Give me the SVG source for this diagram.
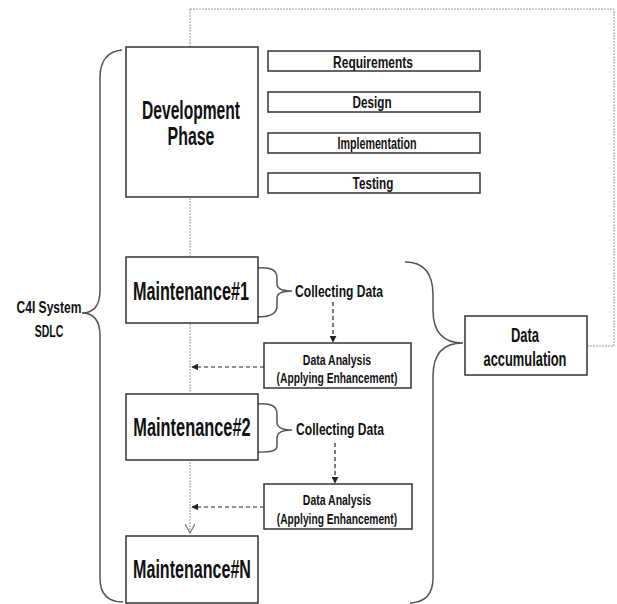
<svg xmlns="http://www.w3.org/2000/svg" width="617" height="604" viewBox="0 0 617 604">
<defs>
<marker id="filled" viewBox="0 0 10 10" refX="9" refY="5" markerWidth="7" markerHeight="7" markerUnits="userSpaceOnUse" orient="auto">
<path d="M0,0 L10,5 L0,10 Z" fill="#222"/>
</marker>
<marker id="open" viewBox="0 0 10 10" refX="9" refY="5" markerWidth="10" markerHeight="10" markerUnits="userSpaceOnUse" orient="auto">
<path d="M0,0 L9,5 L0,10" fill="none" stroke="#777" stroke-width="1.2"/>
</marker>
<style>
.box{fill:#fff;stroke:#333;stroke-width:1.5}
.brace{fill:none;stroke:#555;stroke-width:1.5}
.dot{fill:none;stroke:#999;stroke-width:1;stroke-dasharray:2 1}
.dash{fill:none;stroke:#222;stroke-width:1.2;stroke-dasharray:4 3}
text{font-family:"Liberation Sans",Arial,sans-serif;fill:#111;text-anchor:middle;font-weight:bold}
.big{font-size:25px}
.mid{font-size:20px}
.sm{font-size:17px}
.xs{font-size:14px}
</style>
</defs>
<rect width="617" height="604" fill="#fff"/>
<g id="connectors">
<path class="dot" d="M190,9 H614 V346 H587"/>
<path class="dot" d="M190,9 V533" marker-end="url(#open)"/>
<path class="dash" d="M333,302 V342" marker-end="url(#filled)"/>
<path class="dash" d="M264,367 H192" marker-end="url(#filled)"/>
<path class="dash" d="M335,443 V483" marker-end="url(#filled)"/>
<path class="dash" d="M264,507 H192" marker-end="url(#filled)"/>
<path class="brace" d="M258,268 Q277,266 277,278 V284 Q277,291 292,291 Q277,291 277,298 V306 Q277,317 258,317"/>
<path class="brace" d="M258,404 Q277,402 277,414 V422 Q277,430 292,430 Q277,430 277,438 V446 Q277,453 258,452"/>
<path class="brace" d="M122,50 Q100,52 100,78 V290 Q100,313 82,313 Q100,313 100,336 V578 Q100,602 123,602"/>
<path class="brace" d="M405,262 Q433,262 433,295 V310 Q433,343 463,343 Q433,343 433,376 V578 Q433,602 410,603"/>
</g>
<g id="dev">
<rect class="box" x="126" y="47" width="132" height="150"/>
<text class="big" transform="translate(191,119) scale(0.625,1)">Development</text>
<text class="big" transform="translate(191,145) scale(0.635,1)">Phase</text>
</g>
<g id="req">
<rect class="box" x="268" y="51" width="212" height="20"/>
<text class="sm" transform="translate(373,68) scale(0.705,1)">Requirements</text>
</g>
<g id="design">
<rect class="box" x="268" y="92" width="212" height="20"/>
<text class="sm" transform="translate(372,108) scale(0.69,1)">Design</text>
</g>
<g id="impl">
<rect class="box" x="268" y="133" width="212" height="20"/>
<text class="sm" transform="translate(377,149) scale(0.63,1)">Implementation</text>
</g>
<g id="test">
<rect class="box" x="268" y="173" width="212" height="20"/>
<text class="sm" transform="translate(373,189) scale(0.69,1)">Testing</text>
</g>
<g id="c4i">
<text class="sm" transform="translate(49,313) scale(0.71,1)">C4I System</text>
<text class="sm" transform="translate(49,337) scale(0.62,1)">SDLC</text>
</g>
<g id="m1">
<rect class="box" x="126" y="257" width="132" height="66"/>
<text class="big" transform="translate(191,300) scale(0.648,1)">Maintenance#1</text>
</g>
<g id="cd1">
<text class="sm" transform="translate(339,297) scale(0.71,1)">Collecting Data</text>
</g>
<g id="da1">
<rect class="box" x="264" y="343" width="147" height="45"/>
<text class="xs" transform="translate(337,365) scale(0.75,1)">Data Analysis</text>
<text class="xs" transform="translate(337,383) scale(0.734,1)">(Applying Enhancement)</text>
</g>
<g id="m2">
<rect class="box" x="126" y="394" width="132" height="66"/>
<text class="big" transform="translate(192,436) scale(0.655,1)">Maintenance#2</text>
</g>
<g id="cd2">
<text class="sm" transform="translate(340,435) scale(0.71,1)">Collecting Data</text>
</g>
<g id="da2">
<rect class="box" x="264" y="484" width="148" height="45"/>
<text class="xs" transform="translate(337,505) scale(0.75,1)">Data Analysis</text>
<text class="xs" transform="translate(337,524) scale(0.73,1)">(Applying Enhancement)</text>
</g>
<g id="mn">
<rect class="box" x="126" y="536" width="132" height="67"/>
<text class="big" transform="translate(192,578) scale(0.643,1)">Maintenance#N</text>
</g>
<g id="acc">
<rect class="box" x="465" y="316" width="122" height="59"/>
<text class="mid" transform="translate(525,342) scale(0.65,1)">Data</text>
<text class="mid" transform="translate(525,366) scale(0.644,1)">accumulation</text>
</g>
</svg>
